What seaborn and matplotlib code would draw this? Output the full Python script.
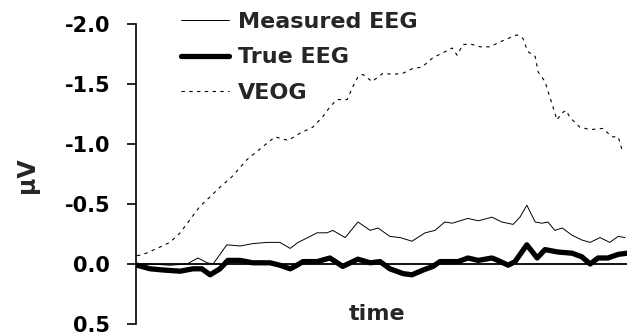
import matplotlib
matplotlib.use("Agg")
import matplotlib.pyplot as plt
import seaborn as sns
import pandas as pd

# VEOG (eye channel) trace
veog_time = [0.2, 1.2, 4.3, 6.9, 9.0, 11.0, 13.0, 15.1, 17.1, 19.6, 22.6, 25.9, 28.3,
             31.0, 33.4, 36.0, 38.1, 39.5, 40.9, 43.0, 44.2, 45.2, 46.2, 48.1, 50.3,
             52.3, 54.4, 56.4, 58.2, 60.5, 62.5, 64.4, 65.4, 66.6, 68.4, 70.1, 72.1,
             74.1, 75.8, 77.6, 78.8, 79.8, 81.3, 81.9, 83.3, 84.3, 85.3, 85.7, 86.8,
             87.6, 88.4, 90.4, 92.5, 95.1, 96.9, 98.2, 99.0]
veog_uv = [-0.07, -0.075, -0.13, -0.18, -0.26, -0.37, -0.48, -0.56, -0.64, -0.73, -0.87,
           -0.98, -1.06, -1.03, -1.09, -1.14, -1.23, -1.31, -1.37, -1.37, -1.48, -1.56,
           -1.58, -1.52, -1.59, -1.58, -1.59, -1.63, -1.64, -1.72, -1.76, -1.80, -1.74,
           -1.83, -1.83, -1.81, -1.81, -1.85, -1.88, -1.91, -1.88, -1.77, -1.73, -1.60,
           -1.52, -1.39, -1.26, -1.20, -1.26, -1.28, -1.22, -1.14, -1.12, -1.13, -1.06,
           -1.06, -0.95]

# Measured EEG (contaminated) trace
measured_time = [0.2, 2.9, 6.9, 10.4, 12.6, 14.5, 15.7, 18.5, 21.2, 23.8, 26.7, 29.3,
                 31.4, 33.0, 34.0, 36.9, 38.9, 40.1, 42.6, 45.2, 47.7, 49.3, 51.7, 53.8,
                 56.2, 58.9, 60.9, 62.9, 64.4, 67.6, 69.7, 72.5, 74.5, 76.8, 78.2, 79.6,
                 81.3, 82.7, 83.9, 85.3, 86.8, 88.8, 90.8, 92.5, 94.5, 96.5, 98.2, 99.6]
measured_uv = [0.0, 0.0, 0.01, 0.0, -0.05, -0.01, 0.0, -0.16, -0.15, -0.17, -0.18, -0.18,
               -0.13, -0.18, -0.20, -0.26, -0.26, -0.28, -0.22, -0.35, -0.28, -0.30, -0.23,
               -0.22, -0.19, -0.26, -0.28, -0.35, -0.34, -0.38, -0.36, -0.39, -0.35, -0.33,
               -0.39, -0.49, -0.35, -0.34, -0.35, -0.28, -0.30, -0.24, -0.20, -0.18, -0.22,
               -0.18, -0.23, -0.22]

# True EEG trace
true_time = [0.2, 2.9, 5.5, 9.0, 11.6, 13.4, 15.1, 17.1, 18.7, 21.2, 23.8, 27.3, 29.3,
             31.4, 32.8, 34.0, 36.9, 39.5, 42.1, 45.2, 47.7, 49.7, 51.7, 54.4, 56.2,
             58.5, 60.5, 61.9, 64.0, 65.6, 67.6, 69.7, 72.5, 73.7, 75.8, 77.2, 79.6,
             81.7, 83.3, 85.9, 88.8, 90.8, 92.5, 94.1, 96.1, 98.2, 100.0]
true_uv = [0.01, 0.04, 0.05, 0.06, 0.04, 0.04, 0.09, 0.04, -0.03, -0.03, -0.01, -0.01,
           0.01, 0.04, 0.01, -0.02, -0.02, -0.05, 0.02, -0.04, -0.01, -0.02, 0.04, 0.08,
           0.09, 0.05, 0.02, -0.02, -0.02, -0.02, -0.05, -0.03, -0.05, -0.03, 0.01, -0.02,
           -0.16, -0.05, -0.12, -0.10, -0.09, -0.06, 0.00, -0.05, -0.05, -0.08, -0.09]

y_ticks = [-2.0, -1.5, -1.0, -0.5, 0.0, 0.5]
y_tick_labels = ["-2.0", "-1.5", "-1.0", "-0.5", "0.0", "0.5"]

sns.set_style("white")
plt.rcParams["font.family"] = ["DejaVu Sans"]
plt.rcParams["font.weight"] = "bold"

fig = plt.figure(figsize=(6.36, 3.35), dpi=100)
ax = fig.add_axes([136 / 636, 1 - 324 / 335, 491 / 636, 300 / 335])

measured = pd.DataFrame({"time": measured_time, "uV": measured_uv})
true_eeg = pd.DataFrame({"time": true_time, "uV": true_uv})
veog = pd.DataFrame({"time": veog_time, "uV": veog_uv})

ax.axhline(0, color="black", lw=1.3, zorder=1)
sns.lineplot(data=measured, x="time", y="uV", ax=ax, color="black", lw=0.7,
             label="Measured EEG", sort=False)
sns.lineplot(data=true_eeg, x="time", y="uV", ax=ax, color="black", lw=3.8,
             label="True EEG", sort=False)
sns.lineplot(data=veog, x="time", y="uV", ax=ax, color="black", lw=0.8,
             linestyle=(0, (3, 4)), label="VEOG", sort=False)

ax.set_xlim(0, 100)
ax.set_ylim(0.5, -2.0)
ax.set_yticks(y_ticks)
ax.set_yticklabels(y_tick_labels, fontsize=15, fontweight="bold")
ax.set_xticks([])
ax.tick_params(axis="y", direction="out", length=6.5, width=1.2, pad=12,
               left=True, colors="black")
for side in ["top", "right", "bottom"]:
    ax.spines[side].set_visible(False)
ax.spines["left"].set_linewidth(1.2)
ax.spines["left"].set_color("black")
ax.set_xlabel("")
ax.set_ylabel("")
ax.patch.set_alpha(0)

fig.text(27 / 636, 1 - 175 / 335, "μV", rotation=90, ha="center", va="center",
         fontsize=17, fontweight="bold")
fig.text(377 / 636, 1 - 314 / 335, "time", ha="center", va="center",
         fontsize=16, fontweight="bold")

leg = ax.legend(loc="upper left", bbox_to_anchor=(181 / 636, 1 - 12 / 335),
                bbox_transform=fig.transFigure, frameon=False,
                prop={"size": 16, "weight": "bold"}, handlelength=2.16,
                handletextpad=0.4, labelspacing=0.69, borderpad=0, borderaxespad=0)

fig.savefig("out.png", dpi=100, facecolor="white")
